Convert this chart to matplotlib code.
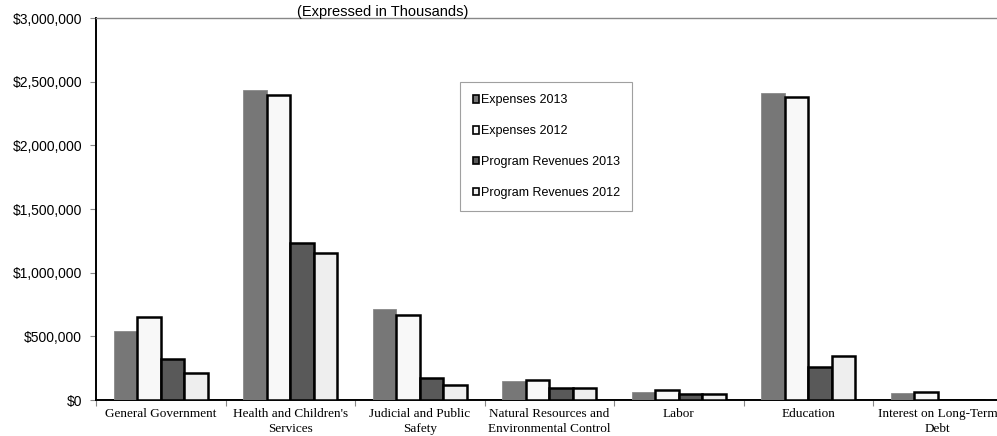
import matplotlib.pyplot as plt
import numpy as np
from matplotlib.ticker import FuncFormatter

# Values in thousands of dollars
categories = ['General Government', "Health and Children's\nServices",
              'Judicial and Public\nSafety', 'Natural Resources and\nEnvironmental Control',
              'Labor', 'Education', 'Interest on Long-Term\nDebt']
expenses_2013 = [544, 2434, 715, 147, 66, 2410, 55]
expenses_2012 = [654, 2397, 665, 160, 79, 2376, 63]
revenues_2013 = [320, 1230, 173, 97, 47, 260, 0]
revenues_2012 = [214, 1151, 121, 97, 45, 344, 0]

series = [
    ('Expenses 2013', expenses_2013, '#777777', '#8a8a8a'),
    ('Expenses 2012', expenses_2012, '#f8f8f8', '#000000'),
    ('Program Revenues 2013', revenues_2013, '#595959', '#000000'),
    ('Program Revenues 2012', revenues_2012, '#eeeeee', '#000000'),
]

fig = plt.figure(figsize=(9.97, 4.36), dpi=100)
ax = fig.add_axes([96 / 997, 1 - 400 / 436, 906.5 / 997, 382 / 436])

x = np.arange(len(categories))
bw = 0.182
for i, (label, vals, fc, ec) in enumerate(series):
    vals = np.array(vals) * 1000
    ax.bar(x + (i - 1.5) * bw, vals, bw, color=fc, edgecolor=ec,
           linewidth=1.8 if ec == '#000000' else 0.6, label=label, zorder=3)

ax.set_xlim(-0.5, len(categories) - 0.5)
ax.set_ylim(0, 3000000)
ax.set_yticks(np.arange(0, 3000001, 500000))
ax.yaxis.set_major_formatter(FuncFormatter(lambda v, p: f'${v:,.0f}'))
for t in ax.get_yticklabels():
    t.set_fontfamily('Liberation Sans')
    t.set_fontsize(10)
ax.tick_params(axis='y', length=4, width=0.8, color='#888888', pad=6)

# category boundary ticks, labels centered between
ax.set_xticks(np.arange(len(categories) + 1) - 0.5)
ax.set_xticklabels([])
ax.set_xticks(x, minor=True)
ax.set_xticklabels(categories, minor=True, fontfamily='Liberation Serif', fontsize=9.5,
                   linespacing=1.25)
ax.tick_params(axis='x', which='major', length=4, width=0.8, color='#888888', direction='out')
ax.tick_params(axis='x', which='minor', length=0, pad=6)

ax.spines['left'].set_linewidth(1.4)
ax.spines['bottom'].set_linewidth(1.4)
ax.spines['top'].set_color('#888888')
ax.spines['top'].set_linewidth(1.0)
ax.spines['right'].set_visible(False)

fig.text(383 / 997, 1 - 12 / 436, '(Expressed in Thousands)', ha='center', va='center',
         fontfamily='Liberation Sans', fontsize=10.5)

leg = ax.legend(loc='upper left', bbox_to_anchor=(460 / 997, 1 - 82 / 436),
                bbox_transform=fig.transFigure, prop={'family': 'Liberation Sans', 'size': 9},
                frameon=True, fancybox=False, edgecolor='#888888', borderpad=1.0,
                labelspacing=1.5, handlelength=0.55, handleheight=0.55, handletextpad=0.1,
                borderaxespad=0)
leg.get_frame().set_linewidth(0.8)
for h in leg.legend_handles:
    h.set_linewidth(1.2)
    h.set_edgecolor('#000000')

fig.savefig('out.png', dpi=100)
